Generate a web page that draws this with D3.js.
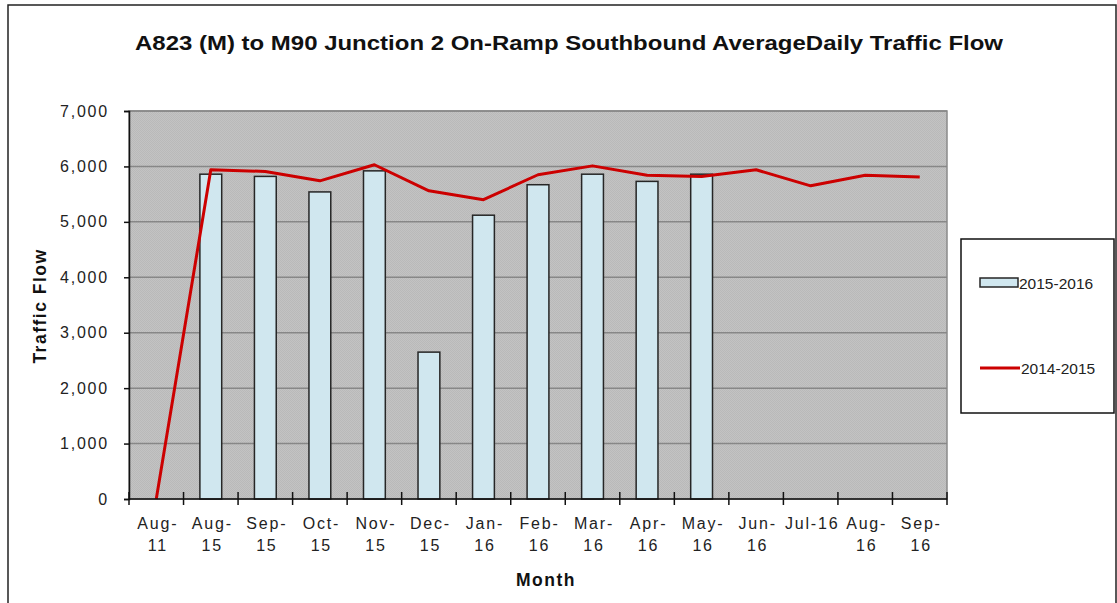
<!DOCTYPE html>
<html>
<head>
<meta charset="utf-8">
<script src="https://cdn.jsdelivr.net/npm/d3@7"></script>
<style>
  body { margin: 0; background: white; }
  text { font-family: "Liberation Sans", Arial, sans-serif; }
</style>
</head>
<body>
<div id="chart"></div>
<script>
var months = ["Aug-11", "Aug-15", "Sep-15", "Oct-15", "Nov-15", "Dec-15", "Jan-16", "Feb-16",
              "Mar-16", "Apr-16", "May-16", "Jun-16", "Jul-16", "Aug-16", "Sep-16"];
var labelLines = [["Aug-", "11"], ["Aug-", "15"], ["Sep-", "15"], ["Oct-", "15"], ["Nov-", "15"],
                  ["Dec-", "15"], ["Jan-", "16"], ["Feb-", "16"], ["Mar-", "16"], ["Apr-", "16"],
                  ["May-", "16"], ["Jun-", "16"], ["Jul-16"], ["Aug-", "16"], ["Sep-", "16"]];
var flow1516 = [null, 5860, 5820, 5540, 5920, 2650, 5120, 5670, 5860, 5730, 5860, null, null, null, null];
var flow1415 = [0, 5940, 5910, 5740, 6030, 5560, 5400, 5850, 6010, 5840, 5820, 5940, 5650, 5840, 5810];
var yTicks = [0, 1000, 2000, 3000, 4000, 5000, 6000, 7000];

w = 1117;
h = 603;
var pLeft = 129, pRight = 947, pTop = 111, pBottom = 499;

var svg = d3.select("#chart").append("svg").attr("width", w).attr("height", h);

// outer frame
svg.append("rect").attr("x", 8).attr("y", 5).attr("width", 1108).attr("height", 610)
    .attr("fill", "white").attr("stroke", "#222").attr("stroke-width", 1.5);

// stipple pattern for the plot area
var pat = svg.append("defs").append("pattern").attr("id", "dots")
    .attr("width", 2).attr("height", 2).attr("patternUnits", "userSpaceOnUse");
pat.append("rect").attr("width", 2).attr("height", 2).attr("fill", "#c3c3c3");
pat.append("rect").attr("width", 1).attr("height", 1).attr("fill", "#b9b9b9");
pat.append("rect").attr("x", 1).attr("y", 1).attr("width", 1).attr("height", 1).attr("fill", "#b9b9b9");

var x = d3.scaleBand().domain(months).range([pLeft, pRight]).paddingInner(0).paddingOuter(0);
var y = d3.scaleLinear().domain([0, 7000]).range([pBottom, pTop]);

svg.append("rect").attr("x", pLeft).attr("y", pTop).attr("width", pRight - pLeft).attr("height", pBottom - pTop)
    .attr("fill", "url(#dots)").attr("stroke", "#8a8a8a").attr("stroke-width", 1.5);

// gridlines
svg.append("g").selectAll("line").data(yTicks.slice(1)).enter().append("line")
    .attr("x1", pLeft).attr("x2", pRight)
    .attr("y1", d => y(d)).attr("y2", d => y(d))
    .attr("stroke", "#878787").attr("stroke-width", 1.5);

// bars
var barW = x.bandwidth() / 2.5;
svg.append("g").selectAll("rect").data(months.filter((m, i) => flow1516[i] != null)).enter().append("rect")
    .attr("x", d => x(d) + (x.bandwidth() - barW) / 2)
    .attr("y", d => y(flow1516[months.indexOf(d)]))
    .attr("width", barW)
    .attr("height", d => pBottom - y(flow1516[months.indexOf(d)]))
    .attr("fill", "#d0e7ef").attr("stroke", "#262626").attr("stroke-width", 1.5);

// line
var line = d3.line().x((d, i) => x(months[i]) + x.bandwidth() / 2).y(d => y(d));
svg.append("path").datum(flow1415).attr("d", line)
    .attr("fill", "none").attr("stroke", "#cc0000").attr("stroke-width", 3).attr("stroke-linejoin", "round");

// y axis
var yAxis = d3.axisLeft(y).tickValues(yTicks).tickSize(5).tickPadding(15).tickFormat(d3.format(","));
var gy = svg.append("g").attr("transform", "translate(" + pLeft + ",0)").call(yAxis);
gy.select(".domain").attr("stroke", "#111").attr("stroke-width", 1.5);
gy.selectAll(".tick line").attr("stroke", "#111").attr("stroke-width", 1.5);
gy.selectAll("text").attr("font-size", "16px").attr("fill", "#222").attr("letter-spacing", "1.8px")
    .attr("font-family", "Liberation Sans, Arial, sans-serif");

// x axis with ticks between categories
var gx = svg.append("g");
gx.append("line").attr("x1", pLeft).attr("x2", pRight).attr("y1", pBottom).attr("y2", pBottom)
    .attr("stroke", "#111").attr("stroke-width", 1.5);
gx.selectAll("line.tk").data(months.concat(["end"])).enter().append("line").attr("class", "tk")
    .attr("x1", (d, i) => i < months.length ? x(d) : pRight)
    .attr("x2", (d, i) => i < months.length ? x(d) : pRight)
    .attr("y1", pBottom - 7).attr("y2", pBottom + 6)
    .attr("stroke", "#111").attr("stroke-width", 1.5);
var lbl = gx.selectAll("text").data(months).enter().append("text")
    .attr("y", 529)
    .attr("text-anchor", "middle").attr("font-size", "16px").attr("fill", "#222").attr("letter-spacing", "1.8px");
lbl.each(function (d, i) {
    var t = d3.select(this);
    labelLines[i].forEach(function (s, k) {
        t.append("tspan").attr("x", x(d) + x.bandwidth() / 2 + 1.5).attr("dy", k == 0 ? 0 : 22).text(s);
    });
});

// titles
svg.append("text").attr("x", 135).attr("y", 50)
    .attr("font-size", "20.5px").attr("font-weight", "bold").attr("fill", "#111")
    .attr("textLength", 868).attr("lengthAdjust", "spacingAndGlyphs")
    .text("A823 (M) to M90 Junction 2 On-Ramp Southbound AverageDaily Traffic Flow");
svg.append("text").attr("transform", "translate(46,306) rotate(-90)").attr("text-anchor", "middle")
    .attr("font-size", "17.5px").attr("font-weight", "bold").attr("fill", "#111").attr("letter-spacing", "1.5px")
    .text("Traffic Flow");
svg.append("text").attr("x", 546).attr("y", 586).attr("text-anchor", "middle")
    .attr("font-size", "17.5px").attr("font-weight", "bold").attr("fill", "#111").attr("letter-spacing", "1.5px")
    .text("Month");

// legend
var lg = svg.append("g");
lg.append("rect").attr("x", 961).attr("y", 239).attr("width", 153).attr("height", 174)
    .attr("fill", "white").attr("stroke", "#111").attr("stroke-width", 1.5);
lg.append("rect").attr("x", 980).attr("y", 278).attr("width", 38).attr("height", 9)
    .attr("fill", "#d0e7ef").attr("stroke", "#262626").attr("stroke-width", 1.5);
lg.append("text").attr("x", 1019).attr("y", 289).attr("font-size", "15.5px").attr("fill", "#222")
    .text("2015-2016");
lg.append("line").attr("x1", 980).attr("x2", 1020).attr("y1", 368).attr("y2", 368)
    .attr("stroke", "#cc0000").attr("stroke-width", 3);
lg.append("text").attr("x", 1021).attr("y", 374).attr("font-size", "15.5px").attr("fill", "#222")
    .text("2014-2015");
</script>
</body>
</html>
